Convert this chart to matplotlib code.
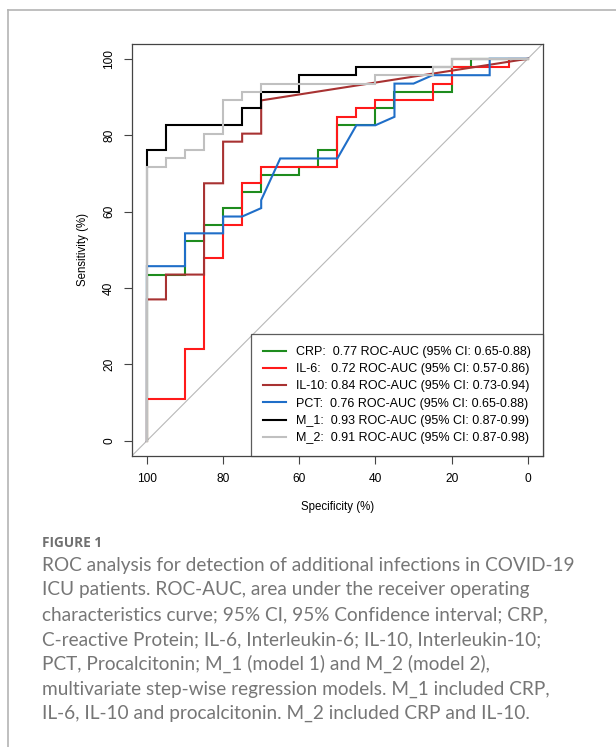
import matplotlib
matplotlib.use("Agg")
import matplotlib.pyplot as plt
from matplotlib.lines import Line2D

# ROC curves: (specificity %, sensitivity %) vertices
crp_spec = [100, 100, 90, 90, 85, 85, 80, 80, 75, 75, 70, 70, 60, 60, 55, 55, 50, 50, 40, 40, 35, 35, 20, 20, 15, 15, 0]
crp_sens = [0, 43.5, 43.5, 52.2, 52.2, 56.5, 56.5, 60.9, 60.9, 65.2, 65.2, 69.6, 69.6, 71.7, 71.7, 76.1, 76.1, 82.6, 82.6, 87.0, 87.0, 91.3, 91.3, 97.8, 97.8, 100, 100]

il6_spec = [100, 100, 90, 90, 85, 85, 80, 80, 75, 75, 70, 70, 50, 50, 45, 45, 40, 40, 25, 25, 20, 20, 5, 5, 0]
il6_sens = [0, 10.9, 10.9, 23.9, 23.9, 47.8, 47.8, 56.5, 56.5, 67.4, 67.4, 71.7, 71.7, 84.8, 84.8, 87.0, 87.0, 89.1, 89.1, 93.5, 93.5, 97.8, 97.8, 100, 100]

il10_spec = [100, 100, 95, 95, 85, 85, 80, 80, 75, 75, 70, 70, 0]
il10_sens = [0, 37.0, 37.0, 43.5, 43.5, 67.4, 67.4, 78.3, 78.3, 80.4, 80.4, 89.1, 100]

pct_spec = [100, 100, 90, 90, 80, 80, 75, 70, 70, 65, 50, 45, 40, 35, 35, 30, 25, 10, 10, 0]
pct_sens = [0, 45.7, 45.7, 54.3, 54.3, 58.7, 58.7, 60.9, 63.0, 73.9, 73.9, 82.6, 82.6, 84.8, 93.5, 93.5, 95.7, 95.7, 100, 100]

m1_spec = [100, 100, 95, 95, 75, 75, 70, 70, 60, 60, 45, 45, 20, 20, 0]
m1_sens = [0, 76.1, 76.1, 82.6, 82.6, 87.0, 87.0, 91.3, 91.3, 95.7, 95.7, 97.8, 97.8, 100, 100]

m2_spec = [100, 100, 95, 95, 90, 90, 85, 85, 80, 80, 75, 75, 70, 70, 40, 40, 25, 25, 20, 20, 0]
m2_sens = [0, 71.7, 71.7, 73.9, 73.9, 76.1, 76.1, 80.4, 80.4, 89.1, 89.1, 91.3, 91.3, 93.5, 93.5, 95.7, 95.7, 97.8, 97.8, 100, 100]

labels = ["CRP:  0.77 ROC-AUC (95% CI: 0.65-0.88)",
          "IL-6:   0.72 ROC-AUC (95% CI: 0.57-0.86)",
          "IL-10: 0.84 ROC-AUC (95% CI: 0.73-0.94)",
          "PCT:  0.76 ROC-AUC (95% CI: 0.65-0.88)",
          "M_1:  0.93 ROC-AUC (95% CI: 0.87-0.99)",
          "M_2:  0.91 ROC-AUC (95% CI: 0.87-0.98)"]
colors = ["#1e8c1e", "#ff1a1a", "#a83232", "#1f6ec8", "#000000", "#c0c0c0"]

caption = ["ROC analysis for detection of additional infections in COVID-19",
           "ICU patients. ROC-AUC, area under the receiver operating",
           "characteristics curve; 95% CI, 95% Confidence interval; CRP,",
           "C-reactive Protein; IL-6, Interleukin-6; IL-10, Interleukin-10;",
           "PCT, Procalcitonin; M_1 (model 1) and M_2 (model 2),",
           "multivariate step-wise regression models. M_1 included CRP,",
           "IL-6, IL-10 and procalcitonin. M_2 included CRP and IL-10."]

W, H = 616, 747
fig = plt.figure(figsize=(W / 100, H / 100), dpi=100)
plt.rcParams['font.family'] = ['Liberation Sans', 'DejaVu Sans']

# outer panel frame
fig.add_artist(Line2D([8 / W, 8 / W], [0, 1 - 10 / H], color="#b4b4b4", lw=1.2))
fig.add_artist(Line2D([8 / W, 1], [1 - 10 / H, 1 - 10 / H], color="#b4b4b4", lw=1.2))

ax = fig.add_axes([131.7 / W, 1 - 456 / H, (543 - 131.7) / W, (456 - 43.5) / H])
ax.axline((100, 0), (0, 100), color="#b8b8b8", lw=0.8, zorder=1)

curves = [(crp_spec, crp_sens), (il6_spec, il6_sens), (il10_spec, il10_sens),
          (pct_spec, pct_sens), (m1_spec, m1_sens), (m2_spec, m2_sens)]
for i, ((xs, ys), c, lab) in enumerate(zip(curves, colors, labels)):
    ax.plot(xs, ys, color=c, lw=1.5, label=lab, zorder=2 + i, solid_joinstyle='miter')

ax.set_xlim(104, -4)
ax.set_ylim(-4, 104)
ax.set_xticks([100, 80, 60, 40, 20, 0])
ax.set_yticks([0, 20, 40, 60, 80, 100])
ax.tick_params(length=6, width=0.8, color="#444444", labelsize=8.6, pad=6)
for lab in ax.get_yticklabels():
    lab.set_rotation(90)
    lab.set_va('center')
for s in ax.spines.values():
    s.set_color("#444444")
    s.set_linewidth(0.9)
ax.set_xlabel("Specificity (%)", fontsize=8.3, labelpad=12)
ax.set_ylabel("Sensitivity (%)", fontsize=8.3, labelpad=10)

leg = ax.legend(loc='lower right', bbox_to_anchor=(1, 0), borderaxespad=0,
                fancybox=False, fontsize=9.0, handlelength=1.9, handletextpad=0.8,
                labelspacing=0.42, borderpad=0.95)
leg.get_frame().set_edgecolor("#333333")
leg.get_frame().set_linewidth(0.9)

fig.text(42 / W, 1 - 543 / H, "FIGURE 1", fontsize=9.8, fontweight='bold',
         color="#707070", va='center', family=['Open Sans', 'DejaVu Sans'])
for k, line in enumerate(caption):
    fig.text(42 / W, 1 - (565 + 24.8 * k) / H, line, fontsize=13.7, color="#767676",
             va='center', family=['Lato', 'DejaVu Sans'])

fig.savefig("out.png", dpi=100)
